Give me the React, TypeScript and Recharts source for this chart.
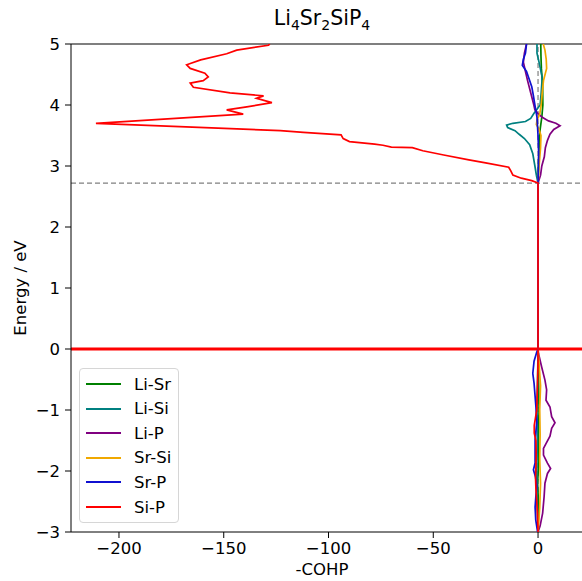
import { ScatterChart, Scatter, XAxis, YAxis, ReferenceLine } from 'recharts';

// each row: [energy (eV), -COHP]
const LI_SR: number[][] = [
  [-3, 0], [-2.6, 0.3], [-2.2, -0.2], [-1.8, 0.4], [-1.4, 0.2], [-1.0, 0.5], [-0.6, 0.3], [-0.2, 0.1], [0, 0],
  [2.72, 0], [3.0, 0.2], [3.3, 0.5], [3.6, 1.0], [3.8, 1.8], [4.0, 2.3], [4.3, 2.2], [4.6, 1.6], [4.8, 1.4], [5.0, 1.3],
];

const LI_SI: number[][] = [
  [-3, 0], [-2.5, -0.4], [-2.0, -0.6], [-1.5, -0.3], [-1.0, -0.5], [-0.5, -0.2], [0, 0],
  [2.72, 0], [2.85, -0.8], [3.0, -1.5], [3.2, -2.5], [3.35, -4], [3.45, -6.5], [3.52, -9], [3.58, -11],
  [3.63, -14.5], [3.67, -15], [3.7, -12], [3.73, -6], [3.78, -3.5], [3.86, -2], [3.93, -0.5], [4.0, 1],
  [4.2, 1.5], [4.45, 2], [4.7, 0.5], [4.85, -0.5], [5.0, -0.5],
];

const LI_P: number[][] = [
  [-3, 0], [-2.9, 1], [-2.69, 2.2], [-2.42, 2.9], [-2.2, 3.3], [-2.04, 4.5], [-1.96, 6], [-1.87, 4.5],
  [-1.74, 2.6], [-1.63, 2.6], [-1.55, 3.8], [-1.43, 5.7], [-1.3, 6.5], [-1.21, 8.1], [-1.11, 6.5],
  [-0.95, 5.7], [-0.84, 3.8], [-0.67, 4.1], [-0.51, 3.3], [-0.29, 1.7], [-0.07, 0.2], [0, 0],
  [2.72, 0], [2.85, 1.2], [3.0, 1.8], [3.15, 3.0], [3.3, 3.5], [3.42, 4.5], [3.52, 5.7], [3.6, 7.5],
  [3.66, 10.5], [3.7, 8.5], [3.74, 5], [3.8, 2], [3.86, 0], [3.92, -1.5], [4.0, -2], [4.2, -3.5],
  [4.4, -5], [4.55, -6], [4.7, -7], [4.85, -6.5], [5.0, -5.5],
];

const SR_SI: number[][] = [
  [-3, 0], [-2.6, 0.8], [-2.2, 1.2], [-1.8, 0.8], [-1.4, 1], [-1.0, 0.8], [-0.6, 1.2], [-0.3, 0.6], [0, 0],
  [2.72, 0], [3.0, 0.5], [3.3, 1.2], [3.5, 1.4], [3.6, 0.5], [3.68, -0.8], [3.75, -0.5], [3.85, 0.8],
  [4.0, 1.5], [4.2, 2], [4.4, 2.6], [4.6, 4.1], [4.75, 3.9], [4.9, 3.3], [5.0, 2.5],
];

const SR_P: number[][] = [
  [-3, -0.2], [-2.8, -1.1], [-2.59, -1.4], [-2.4, -1.0], [-2.25, -0.6], [-2.1, -1.2], [-1.98, -2.2],
  [-1.87, -1.4], [-1.6, -1.4], [-1.49, -1.4], [-1.2, -0.6], [-0.95, -1.0], [-0.56, -1.9], [-0.4, -2.5],
  [-0.2, -1.9], [-0.05, -0.6], [0, 0],
  [2.72, 0], [3.2, 0.3], [3.5, 0], [3.8, -0.5], [4.0, -1.5], [4.15, -2.2], [4.3, -3], [4.45, -4.5],
  [4.55, -5.5], [4.65, -7.5], [4.75, -7], [4.85, -6], [5.0, -5.5],
];

const SI_P: number[][] = [
  [-3, 0], [-2.7, -0.3], [-2.5, -0.6], [-2.3, -1], [-2.1, -1.2], [-1.93, -1.0], [-1.7, -0.9], [-1.5, -1],
  [-1.38, -1.8], [-1.25, -1.8], [-1.0, -0.6], [-0.6, -0.3], [-0.2, 0], [0, 0],
  [2.72, 0], [2.76, -3], [2.8, -8], [2.85, -12], [2.92, -13], [2.98, -14], [3.05, -25], [3.1, -33],
  [3.18, -45], [3.25, -55], [3.3, -60], [3.31, -70], [3.34, -74], [3.36, -78], [3.4, -90], [3.45, -93],
  [3.51, -94], [3.55, -112], [3.58, -123], [3.64, -168], [3.7, -211], [3.85, -140.7], [3.92, -148.6],
  [3.97, -139], [4.04, -127], [4.11, -134.3], [4.15, -131], [4.2, -147], [4.29, -164.5], [4.36, -166],
  [4.4, -159.8], [4.46, -157.4], [4.52, -159], [4.6, -166], [4.66, -167.7], [4.74, -161], [4.84, -148.6],
  [4.9, -143.8], [4.98, -128.7], [5.0, -128],
];

const SERIES = [
  { name: 'Li-Sr', color: '#008000', rows: LI_SR },
  { name: 'Li-Si', color: '#008080', rows: LI_SI },
  { name: 'Li-P', color: '#800080', rows: LI_P },
  { name: 'Sr-Si', color: '#f0a800', rows: SR_SI },
  { name: 'Sr-P', color: '#1010d0', rows: SR_P },
  { name: 'Si-P', color: '#ff0000', rows: SI_P },
];

const X_TICKS = [-200, -150, -100, -50, 0];
const Y_TICKS = [-3, -2, -1, 0, 1, 2, 3, 4, 5];
const GAP_ENERGY = 2.72;

const FONT = '"DejaVu Sans", sans-serif';
const fmt = (v: number) => (v < 0 ? `\u2212${-v}` : `${v}`);
const noDot = () => <g />;

export default function App() {
  return (
    <div style={{ position: 'absolute', left: 0, top: 0, width: 582, height: 581, overflow: 'hidden', background: '#fff', fontFamily: FONT }}>
      <ScatterChart width={600} height={581} margin={{ top: 44, right: 10, bottom: 0, left: 0 }}>
        <XAxis
          type="number"
          dataKey="x"
          domain={[-222.9, 24.8]}
          ticks={X_TICKS}
          tickFormatter={fmt}
          height={49}
          tickSize={6}
          tickMargin={4}
          allowDataOverflow
          stroke="#000"
          tick={{ fill: '#000', fontSize: 16.5, fontFamily: FONT }}
        />
        <YAxis
          type="number"
          dataKey="y"
          domain={[-3, 5]}
          ticks={Y_TICKS}
          tickFormatter={fmt}
          width={71}
          tickSize={6}
          tickMargin={5}
          allowDataOverflow
          stroke="#000"
          tick={{ fill: '#000', fontSize: 16.5, fontFamily: FONT }}
        />
        <ReferenceLine y={5} stroke="#000" strokeWidth={1.2} />
        <ReferenceLine x={0} stroke="#808080" strokeDasharray="5 3" strokeWidth={1.2} />
        <ReferenceLine y={GAP_ENERGY} stroke="#808080" strokeDasharray="5 3" strokeWidth={1.2} />
        {SERIES.map((s) => (
          <Scatter
            key={s.name}
            name={s.name}
            data={s.rows.map(([e, v]) => ({ x: v, y: e }))}
            line={{ stroke: s.color, strokeWidth: 1.7 }}
            lineType="joint"
            shape={noDot}
            isAnimationActive={false}
          />
        ))}
        <ReferenceLine y={0} stroke="#ff0000" strokeWidth={3} />
      </ScatterChart>

      <div style={{ position: 'absolute', left: 0, width: 644, top: 6, textAlign: 'center', fontSize: 20.5, color: '#000' }}>
        Li<sub style={{ fontSize: 14 }}>4</sub>Sr<sub style={{ fontSize: 14 }}>2</sub>SiP<sub style={{ fontSize: 14 }}>4</sub>
      </div>
      <div style={{ position: 'absolute', left: 0, width: 644, top: 560, textAlign: 'center', fontSize: 16.5, color: '#000' }}>
        -COHP
      </div>
      <div style={{ position: 'absolute', left: 20, top: 288, transform: 'translate(-50%, -50%) rotate(-90deg)', fontSize: 16.5, whiteSpace: 'nowrap', color: '#000' }}>
        Energy / eV
      </div>

      <div style={{ position: 'absolute', left: 79, top: 368, width: 100, height: 155, boxSizing: 'border-box', border: '1px solid #d6d6d6', borderRadius: 4, background: 'rgba(255,255,255,0.85)' }}>
        {SERIES.map((s, i) => (
          <div key={s.name} style={{ position: 'absolute', left: 6, top: 3 + i * 24.6, height: 24, display: 'flex', alignItems: 'center', fontSize: 16.5 }}>
            <span style={{ display: 'inline-block', width: 35, height: 2, background: s.color, marginRight: 13 }} />
            {s.name}
          </div>
        ))}
      </div>
    </div>
  );
}
